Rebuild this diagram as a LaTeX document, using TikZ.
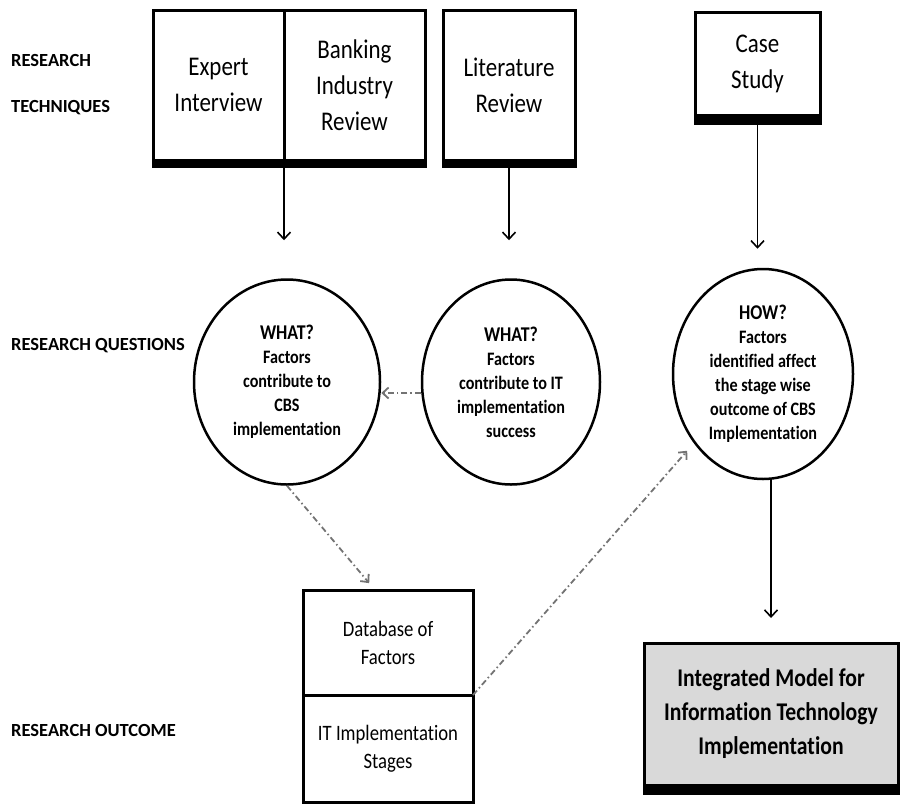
\documentclass[tikz,border=0pt]{standalone}
\usepackage{fontspec}
\setmainfont{Carlito}[Ligatures=NoCommon, Contextuals=NoAlternate]
\newfontfamily\boxfont{Carlito}[FakeStretch=0.85, Ligatures=NoCommon, Contextuals=NoAlternate]
\usetikzlibrary{arrows.meta, positioning, shapes.geometric, calc}
\colorlet{modelgray}{black!15}
\colorlet{linkgray}{black!55}
\newcommand{\footbar}[3]{%
  \fill[black] ([xshift=-1.5pt]#1.south west) rectangle ([xshift=1.5pt,yshift=-#3]#2.south east);}
\tikzset{
  techbox/.style={draw, line width=3pt, outer sep=0pt, inner sep=0pt, align=center,
    font=\boxfont\fontsize{27}{36}\selectfont},
  question/.style={ellipse, draw, line width=2.5pt, inner sep=0pt, align=center,
    font=\boxfont\bfseries\fontsize{19}{24}\selectfont},
  rowlabel/.style={anchor=west, inner sep=0pt, font=\bfseries\fontsize{18.5}{22}\selectfont},
  flow/.style={-{Straight Barb[length=7pt,width=13pt]}, line width=1.6pt},
  link/.style={-{Straight Barb[length=6pt,width=11pt]}, line width=1.8pt, linkgray,
    dash pattern=on 6pt off 3pt on 1.5pt off 3pt}
}

\begin{document}
\begin{tikzpicture}[x=1pt, y=-1pt]
  \useasboundingbox (0,0) rectangle (901,803);
  % row labels
  \node[rowlabel] (lblres) at (11,60) {RESEARCH};
  \node[rowlabel] (lbltech) at (11,108) {TECHNIQUES};
  \node[rowlabel] (lblquest) at (11,346) {RESEARCH QUESTIONS};
  \node[rowlabel] (lblout) at (11,730) {RESEARCH OUTCOME};

  % research techniques
  \node[techbox, minimum width=131pt, minimum height=150pt] (expert) at (218.5,85) {Expert\\Interview};
  \node[techbox, minimum width=141pt, minimum height=150pt, right=0pt of expert] (bank) {Banking\\Industry\\Review};
  \node[techbox, minimum width=132pt, minimum height=150pt, right=18pt of bank] (lit) {Literature\\Review};
  \node[techbox, minimum width=125pt, minimum height=103pt] (case) at (757.5,63.5) {Case\\Study};
  \footbar{expert}{bank}{8pt}
  \footbar{lit}{lit}{8pt}
  \footbar{case}{case}{10pt}

  % research questions
  \node[question, minimum width=186pt, minimum height=205pt] (whatcbs) at (287,382)
    {{\fontsize{21}{24}\selectfont WHAT?}\\Factors\\contribute to\\CBS\\implementation};
  \node[question, minimum width=178pt, minimum height=205pt] (whatit) at (511,382)
    {{\fontsize{21}{24}\selectfont WHAT?}\\Factors\\contribute to IT\\implementation\\success};
  \node[question, minimum width=180pt, minimum height=210pt] (how) at (763,374)
    {{\fontsize{21}{24}\selectfont HOW?}\\Factors\\identified affect\\the stage wise\\outcome of CBS\\Implementation};

  % research outcome
  \node[techbox, minimum width=170pt, minimum height=105pt, font=\boxfont\fontsize{22}{28}\selectfont] (facdb) at (388,642.5) {Database of\\Factors};
  \node[techbox, minimum width=170pt, minimum height=107pt, font=\boxfont\fontsize{22}{28}\selectfont, below=0pt of facdb] (stages) {IT Implementation\\Stages};
  \node[techbox, fill=modelgray, minimum width=254pt, minimum height=142pt, font=\boxfont\bfseries\fontsize{25.5}{34}\selectfont] (model) at (771,714) {Integrated Model for\\Information Technology\\Implementation};
  \footbar{model}{model}{10pt}

  % connectors
  \draw[flow, shorten >=38pt] ([yshift=-8pt]expert.south east) -- (expert.south east |- whatcbs.north);
  \draw[flow, shorten >=38pt] ([yshift=-8pt]lit.south) -- (lit.south |- whatit.north);
  \draw[flow, shorten >=19pt] ([yshift=-10pt]case.south) -- (case.south |- how.north);
  \draw[flow, shorten >=25pt] (how.south -| model.north) -- (model.north);
  \draw[link] ([yshift=-11pt]whatit.west) -- ([yshift=-11pt]whatcbs.east);
  \draw[link, shorten >=9pt] (whatcbs.south) -- ([xshift=72pt]facdb.north west);
  \draw[link, shorten >=10pt] (facdb.south east) -- (how.225);
\end{tikzpicture}
\end{document}
